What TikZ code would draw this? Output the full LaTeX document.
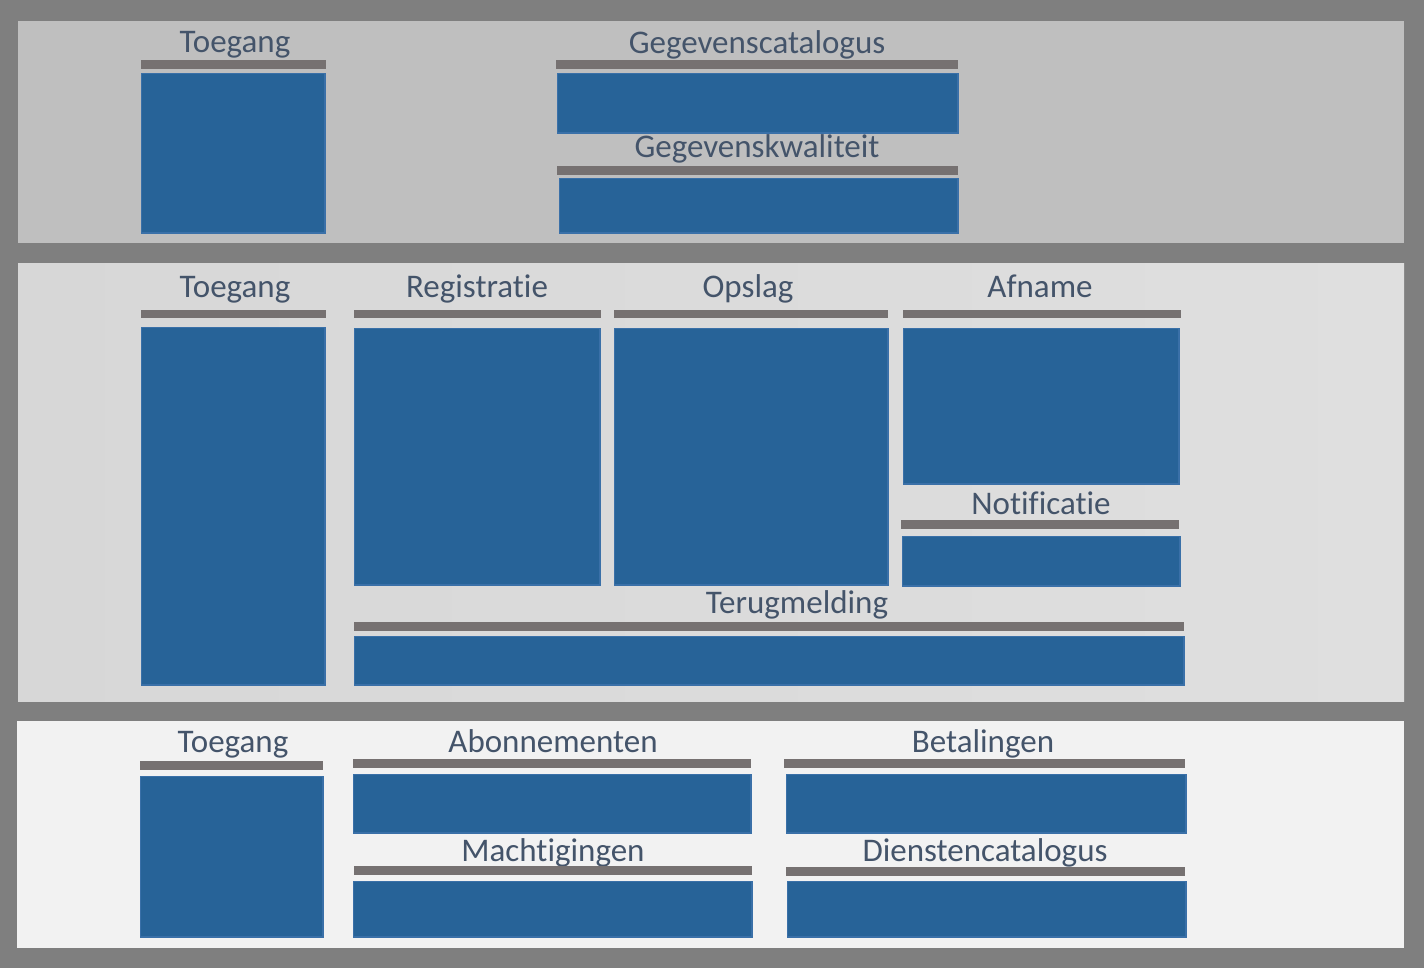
\documentclass[tikz,border=0pt]{standalone}
\usepackage{fontspec}
\setmainfont{Carlito}[RawFeature={-liga;-clig}]
\usepackage{tikz}
\definecolor{framegray}{HTML}{7F7F7F}
\definecolor{lanetop}{HTML}{BFBFBF}
\definecolor{lanemidl}{HTML}{D7D7D7}
\definecolor{lanemidr}{HTML}{DFDFDF}
\definecolor{lanebottom}{HTML}{F2F2F2}
\definecolor{blockblue}{HTML}{276398}
\definecolor{blockedge}{HTML}{3A70A8}
\definecolor{bargray}{HTML}{767171}
\definecolor{labelblue}{HTML}{44546A}
\tikzset{
    lane/.style = {rectangle, anchor=north west, inner sep=0pt, outer sep=0pt},
    block/.style = {rectangle, anchor=north west, inner sep=0pt, fill=blockblue, draw=blockedge, line width=1.5pt, xshift=0.75pt, yshift=-0.75pt},
    bar_line/.style = {rectangle, anchor=north west, inner sep=0pt, fill=bargray},
    block_label/.style = {anchor=base, inner sep=0pt, text=labelblue, font=\fontsize{33}{40}\selectfont}
}
\begin{document}
\begin{tikzpicture}[x=1pt, y=-1pt]
    \fill[framegray] (0,0) rectangle (1424,968);
    \useasboundingbox (0,0) rectangle (1424,968);
    % LANES
    \node [lane, fill=lanetop, minimum width=1386pt, minimum height=222pt] (lane_top) at (18,21) {};
    \node [lane, left color=lanemidl, right color=lanemidr, minimum width=1386pt, minimum height=437pt] (lane_mid) at (18,264) {};
    \node [lane, fill=lanebottom, minimum width=1387pt, minimum height=227pt] (lane_bottom) at (17,721) {};
    % TOP LANE
    \node [block_label] (t_toegang) at (235,53) {Toegang};
    \node [bar_line, minimum width=185pt, minimum height=9pt] (t_toegang_bar) at (141,60) {};
    \node [block, minimum width=183.5pt, minimum height=159.5pt] (t_toegang_box) at (140,72) {};
    \node [block_label] (t_catalogus) at (757,54) {Gegevenscatalogus};
    \node [bar_line, minimum width=402pt, minimum height=9pt] (t_catalogus_bar) at (556,60) {};
    \node [block, minimum width=400.5pt, minimum height=59.5pt] (t_catalogus_box) at (556,72) {};
    \node [block_label] (t_kwaliteit) at (757,158) {Gegevenskwaliteit};
    \node [bar_line, minimum width=401pt, minimum height=9pt] (t_kwaliteit_bar) at (557,166) {};
    \node [block, minimum width=398.5pt, minimum height=54.5pt] (t_kwaliteit_box) at (558,177) {};
    % MIDDLE LANE
    \node [block_label] (m_toegang) at (235,298) {Toegang};
    \node [bar_line, minimum width=185pt, minimum height=8pt] (m_toegang_bar) at (141,310) {};
    \node [block, minimum width=183.5pt, minimum height=357.5pt] (m_toegang_box) at (140,326) {};
    \node [block_label] (m_registratie) at (477,298) {Registratie};
    \node [bar_line, minimum width=247pt, minimum height=8pt] (m_registratie_bar) at (354,310) {};
    \node [block, minimum width=245.5pt, minimum height=256.5pt] (m_registratie_box) at (353,327) {};
    \node [block_label] (m_opslag) at (748,298) {Opslag};
    \node [bar_line, minimum width=274pt, minimum height=8pt] (m_opslag_bar) at (614,310) {};
    \node [block, minimum width=273.5pt, minimum height=256.5pt] (m_opslag_box) at (613,327) {};
    \node [block_label] (m_afname) at (1040,298) {Afname};
    \node [bar_line, minimum width=278pt, minimum height=8pt] (m_afname_bar) at (903,310) {};
    \node [block, minimum width=275.5pt, minimum height=155.5pt] (m_afname_box) at (902,327) {};
    \node [block_label] (m_notificatie) at (1041,514) {Notificatie};
    \node [bar_line, minimum width=278pt, minimum height=9pt] (m_notificatie_bar) at (901,520) {};
    \node [block, minimum width=277.5pt, minimum height=49.5pt] (m_notificatie_box) at (901,535) {};
    \node [block_label] (m_terugmelding) at (797,613) {Terugmelding};
    \node [bar_line, minimum width=830pt, minimum height=9pt] (m_terugmelding_bar) at (354,622) {};
    \node [block, minimum width=829.5pt, minimum height=48.5pt] (m_terugmelding_box) at (353,635) {};
    % BOTTOM LANE
    \node [block_label] (b_toegang) at (233,752) {Toegang};
    \node [bar_line, minimum width=183pt, minimum height=9pt] (b_toegang_bar) at (140,761) {};
    \node [block, minimum width=182.5pt, minimum height=160.5pt] (b_toegang_box) at (139,775) {};
    \node [block_label] (b_abonnementen) at (553,752) {Abonnementen};
    \node [bar_line, minimum width=398pt, minimum height=9pt] (b_abonnementen_bar) at (353,759) {};
    \node [block, minimum width=397.5pt, minimum height=58.5pt] (b_abonnementen_box) at (352,773) {};
    \node [block_label] (b_betalingen) at (983,752) {Betalingen};
    \node [bar_line, minimum width=401pt, minimum height=9pt] (b_betalingen_bar) at (784,759) {};
    \node [block, minimum width=399.5pt, minimum height=58.5pt] (b_betalingen_box) at (785,773) {};
    \node [block_label] (b_machtigingen) at (553,861) {Machtigingen};
    \node [bar_line, minimum width=398pt, minimum height=9pt] (b_machtigingen_bar) at (354,866) {};
    \node [block, minimum width=398.5pt, minimum height=55.5pt] (b_machtigingen_box) at (352,880) {};
    \node [block_label] (b_diensten) at (985,861) {Dienstencatalogus};
    \node [bar_line, minimum width=399pt, minimum height=9pt] (b_diensten_bar) at (786,867) {};
    \node [block, minimum width=398.5pt, minimum height=55.5pt] (b_diensten_box) at (786,880) {};
\end{tikzpicture}
\end{document}
